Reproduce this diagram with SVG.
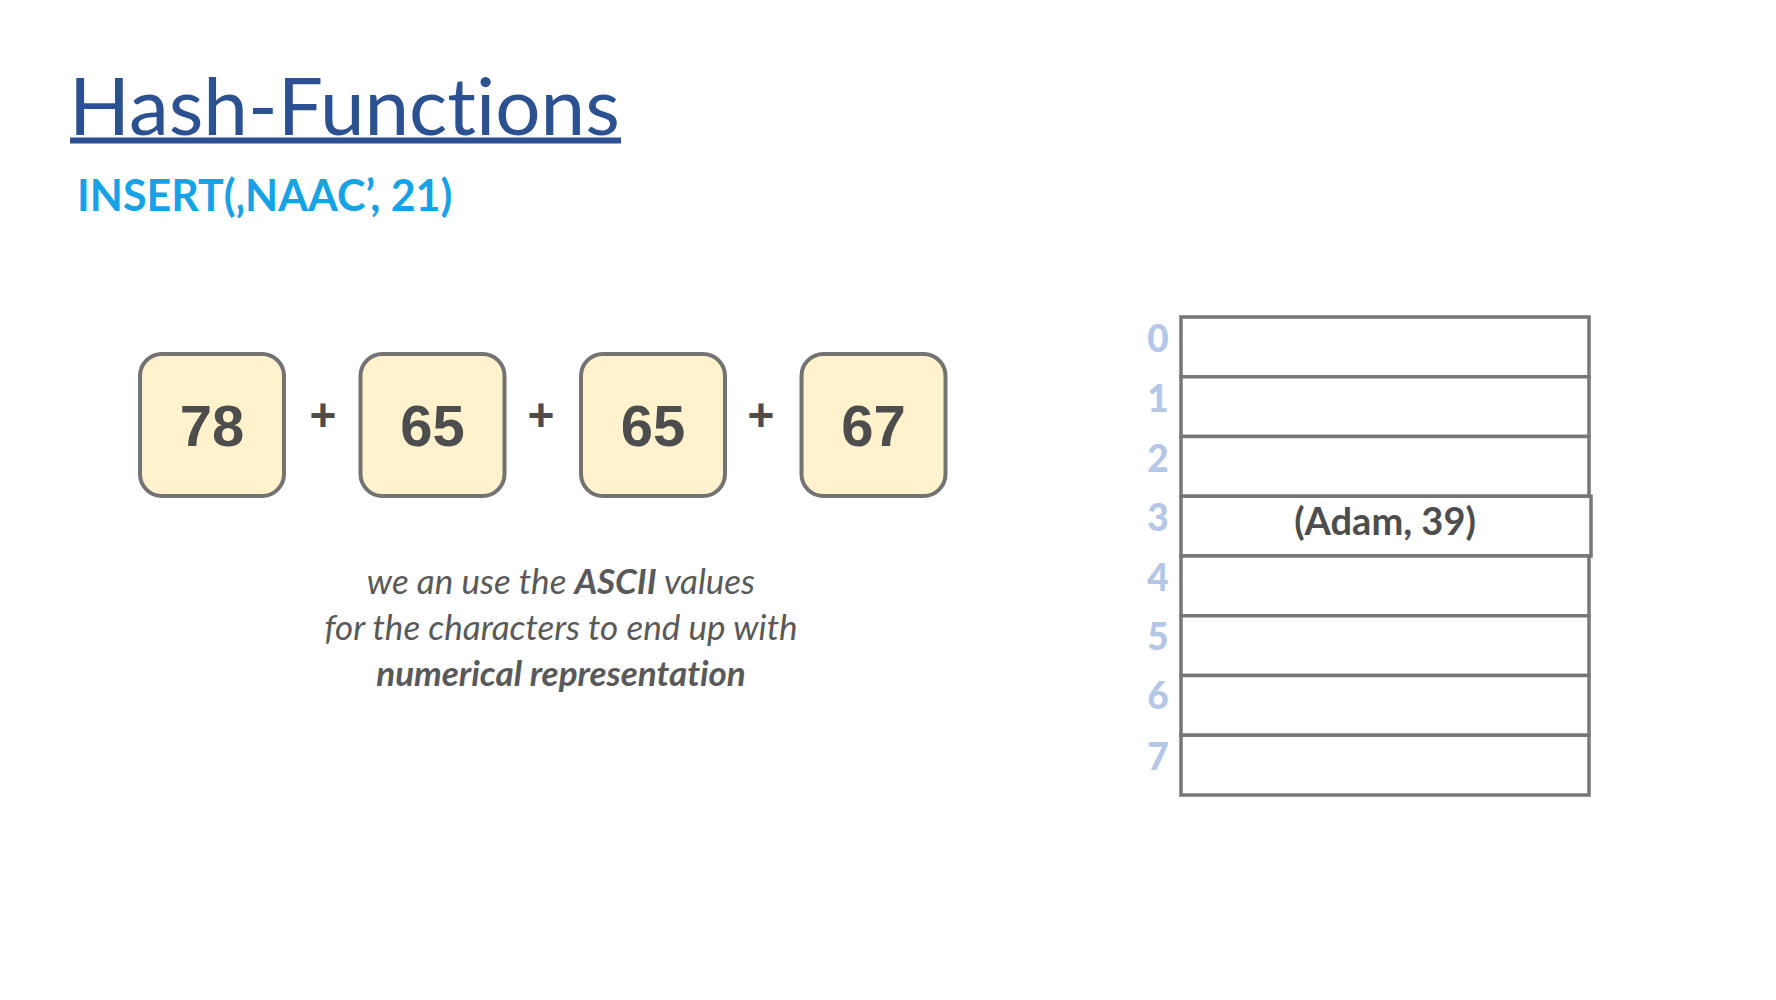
<svg xmlns="http://www.w3.org/2000/svg" width="1776" height="1000" viewBox="0 0 1776 1000">
<style>
text{font-variant-ligatures:none;font-feature-settings:"liga" 0}
.title{font-family:Lato,"Liberation Sans",sans-serif;font-size:80px;fill:#2b5191}
.sub{font-family:Lato,"Liberation Sans",sans-serif;font-weight:bold;font-size:43px;fill:#18a2e6}
.box{fill:#fff2cc;stroke:#737373;stroke-width:4}
.num{font-family:"Liberation Sans",Arial,sans-serif;font-weight:bold;font-size:58px;fill:#4d4d4d;text-anchor:middle}
.plus{font-family:"Liberation Sans",Arial,sans-serif;font-weight:bold;font-size:46px;fill:#4d4d4d;text-anchor:middle}
.desc{font-family:Lato,"Liberation Sans",sans-serif;font-style:italic;font-size:35px;fill:#595959;text-anchor:middle}
.b{font-weight:bold}
.row{fill:#ffffff;stroke:#777777;stroke-width:3.5}
.idx{font-family:Lato,"Liberation Sans",sans-serif;font-weight:900;font-size:37px;fill:#b4c7e7;text-anchor:middle}
.cell{font-family:Lato,"Liberation Sans",sans-serif;font-weight:bold;font-size:38px;fill:#4d4d4d;text-anchor:middle}
</style>
<rect width="1776" height="1000" fill="#ffffff"/>
<g id="title">
<text class="title" x="69" y="135">Hash-Functions</text>
<rect x="70" y="137.5" width="551" height="6" fill="#2b5191"/>
</g>
<g id="subtitle">
<text class="sub" x="77" y="211">INSERT(‚NAAC’, 21)</text>
</g>
<g id="box78"><rect class="box" x="140" y="354" width="144" height="142" rx="22"/><text class="num" x="212" y="446">78</text></g>
<g id="box65a"><rect class="box" x="360.5" y="354" width="144" height="142" rx="22"/><text class="num" x="432.5" y="446">65</text></g>
<g id="box65b"><rect class="box" x="581" y="354" width="144" height="142" rx="22"/><text class="num" x="653" y="446">65</text></g>
<g id="box67"><rect class="box" x="801.5" y="354" width="144" height="142" rx="22"/><text class="num" x="873.5" y="446">67</text></g>
<g id="connectors">
<text class="plus" x="323" y="431">+</text>
<text class="plus" x="541" y="431">+</text>
<text class="plus" x="761" y="431">+</text>
</g>
<g id="description">
<text class="desc" x="561" y="594">we an use the <tspan class="b">ASCII</tspan> values</text>
<text class="desc" x="561" y="640">for the characters to end up with</text>
<text class="desc b" x="561" y="686">numerical representation</text>
</g>
<g id="table">
<rect class="row" x="1181" y="317" width="408" height="59.75"/>
<rect class="row" x="1181" y="376.75" width="408" height="59.75"/>
<rect class="row" x="1181" y="436.5" width="408" height="59.75"/>
<rect class="row" x="1181" y="496.25" width="410" height="59.75"/>
<rect class="row" x="1181" y="556" width="408" height="59.75"/>
<rect class="row" x="1181" y="615.75" width="408" height="59.75"/>
<rect class="row" x="1181" y="675.5" width="408" height="59.75"/>
<rect class="row" x="1181" y="735.25" width="408" height="59.75"/>
<text class="cell" x="1385" y="535">(Adam, 39)</text>
</g>
<g id="indices">
<text class="idx" x="1158" y="352">0</text>
<text class="idx" x="1158" y="412">1</text>
<text class="idx" x="1158" y="472">2</text>
<text class="idx" x="1158" y="531">3</text>
<text class="idx" x="1158" y="591">4</text>
<text class="idx" x="1158" y="650">5</text>
<text class="idx" x="1158" y="709">6</text>
<text class="idx" x="1158" y="770">7</text>
</g>
</svg>
